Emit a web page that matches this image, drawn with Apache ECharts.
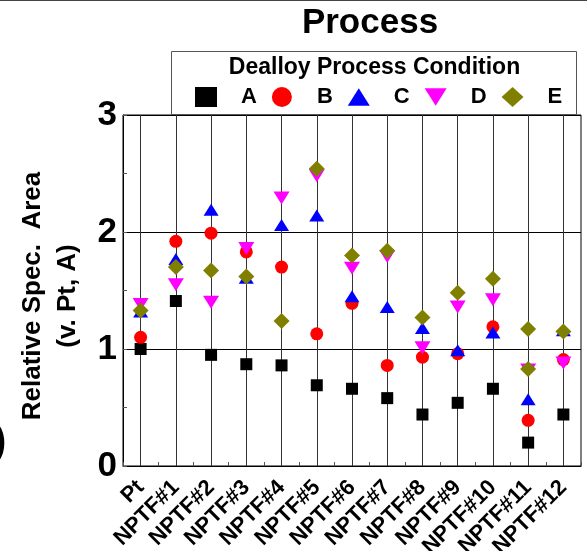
<!DOCTYPE html>
<html>
<head>
<meta charset="utf-8">
<script src="https://cdn.jsdelivr.net/npm/echarts@6/dist/echarts.min.js"></script>
<style>
  html, body { margin: 0; padding: 0; background: #fff; }
  #chart { width: 587px; height: 551px; }
</style>
</head>
<body>
<div id="chart"></div>
<script>
// Samples along the x axis
const categories = ['Pt', 'NPTF#1', 'NPTF#2', 'NPTF#3', 'NPTF#4', 'NPTF#5', 'NPTF#6',
  'NPTF#7', 'NPTF#8', 'NPTF#9', 'NPTF#10', 'NPTF#11', 'NPTF#12'];

// Relative specific area (v. Pt, A) for each dealloy process condition
const condA = [1.00, 1.41, 0.95, 0.87, 0.86, 0.69, 0.66, 0.58, 0.44, 0.54, 0.66, 0.20, 0.44];
const condB = [1.10, 1.92, 1.99, 1.83, 1.70, 1.13, 1.39, 0.86, 0.93, 0.96, 1.19, 0.39, 0.91];
const condC = [1.32, 1.77, 2.19, 1.61, 2.06, 2.14, 1.45, 1.36, 1.18, 0.99, 1.14, 0.57, 1.16];
const condD = [1.38, 1.55, 1.40, 1.86, 2.29, 2.48, 1.69, 1.79, 1.01, 1.36, 1.42, 0.82, 0.88];
const condE = [1.33, 1.70, 1.67, 1.62, 1.24, 2.54, 1.80, 1.84, 1.27, 1.48, 1.60, 1.17, 1.15];
// Second measurement taken for condition E
const condEExtraCats = ['NPTF#11'];
const condEExtraVals = [0.83];

const yTicks = [0, 1, 2, 3];

const FONT = "'Liberation Sans', Arial, Helvetica, sans-serif";
const triDown = 'path://M0,0 L20,0 L10,16 Z';
const triUp = 'path://M10,0 L20,16 L0,16 Z';

const chart = echarts.init(document.getElementById('chart'), null, { renderer: 'canvas' });

function pairs(vals) {
  return vals.map((v, i) => [categories[i], v]);
}

const eData = pairs(condE).concat(condEExtraCats.map((c, i) => [c, condEExtraVals[i]]));

const option = {
  backgroundColor: '#ffffff',
  animation: false,
  grid: {
    left: 123, right: 6, top: 115, bottom: 85,
    containLabel: false, outerBoundsMode: 'none',
    show: true, borderColor: '#000', borderWidth: 1, backgroundColor: 'transparent'
  },
  legend: {
    data: [
      { name: 'A', icon: 'rect' },
      { name: 'B', icon: 'circle' },
      { name: 'C', icon: triUp },
      { name: 'D', icon: triDown },
      { name: 'E', icon: 'diamond' }
    ],
    left: 195, top: 86, padding: 0,
    itemWidth: 22, itemHeight: 20, itemGap: 15,
    selectedMode: false,
    formatter: name => '{p|' + name + '}',
    textStyle: {
      color: '#000', fontFamily: FONT, fontWeight: 'bold', fontSize: 22,
      rich: { p: { padding: [0, 0, 0, 19], fontFamily: FONT, fontWeight: 'bold', fontSize: 22, color: '#000' } }
    }
  },
  xAxis: {
    type: 'category',
    data: categories,
    boundaryGap: true,
    axisLine: { show: true, lineStyle: { color: '#000', width: 1 } },
    axisTick: { show: true, inside: true, length: 4, lineStyle: { color: '#555' } },
    axisLabel: {
      interval: 0, rotate: 45, margin: 18, color: '#000',
      fontFamily: FONT, fontWeight: 'bold', fontSize: 22, hideOverlap: false
    },
    splitLine: { show: false }
  },
  yAxis: {
    type: 'value',
    min: yTicks[0], max: yTicks[yTicks.length - 1], interval: 1,
    name: 'Relative Spec.  Area\n(v. Pt, A)',
    nameLocation: 'middle',
    nameGap: 38,
    nameTextStyle: {
      color: '#000', fontFamily: FONT, fontWeight: 'bold', fontSize: 26,
      lineHeight: 35, padding: [0, 11, 0, 0]
    },
    axisLine: { show: true, lineStyle: { color: '#000', width: 1 } },
    axisTick: { show: true, inside: true, length: 4, lineStyle: { color: '#555' } },
    minorTick: { show: true, splitNumber: 2, length: 4, lineStyle: { color: '#555' } },
    axisLabel: {
      margin: 6, color: '#000', fontFamily: FONT, fontWeight: 'bold', fontSize: 35
    },
    splitLine: { show: true, lineStyle: { color: '#000', width: 1 } }
  },
  series: [
    {
      name: 'A', type: 'scatter', symbol: 'rect', symbolSize: 12,
      itemStyle: { color: '#000000', opacity: 1 }, data: pairs(condA), z: 3,
      markLine: {
        silent: true, symbol: 'none', label: { show: false },
        lineStyle: { color: '#333', width: 1, type: 'solid', opacity: 1 },
        data: categories.map(c => ({ xAxis: c })),
        z: 1
      }
    },
    {
      name: 'B', type: 'scatter', symbol: 'circle', symbolSize: 13,
      itemStyle: { color: '#ff0000', opacity: 1 }, data: pairs(condB), z: 4
    },
    {
      name: 'C', type: 'scatter', symbol: triUp, symbolSize: [15, 12],
      itemStyle: { color: '#0000ff', opacity: 1 }, data: pairs(condC), z: 5
    },
    {
      name: 'D', type: 'scatter', symbol: triDown, symbolSize: [16, 13],
      itemStyle: { color: '#ff00ff', opacity: 1 }, data: pairs(condD), z: 6
    },
    {
      name: 'E', type: 'scatter', symbol: 'diamond', symbolSize: 16,
      itemStyle: { color: '#808000', opacity: 1 }, data: eData, z: 7
    }
  ],
  graphic: [
    // thin frame line along the top edge
    { type: 'rect', shape: { x: 0, y: 0, width: 587, height: 1 }, style: { fill: '#444' }, silent: true },
    // frame around the legend
    {
      type: 'rect', shape: { x: 171.5, y: 51.5, width: 405, height: 63 },
      style: { fill: 'transparent', stroke: '#555', lineWidth: 1 }, z: 0, silent: true
    },
    {
      type: 'text', x: 370, y: 23, silent: true,
      style: { text: 'Process', font: 'bold 35px ' + FONT, fill: '#000', textAlign: 'center', textVerticalAlign: 'middle' }
    },
    {
      type: 'text', x: 374.5, y: 67.5, silent: true,
      style: { text: 'Dealloy Process Condition', font: 'bold 23px ' + FONT, fill: '#000', textAlign: 'center', textVerticalAlign: 'middle' }
    },
    {
      type: 'text', x: -7, y: 443, silent: true,
      style: { text: ')', font: 'bold 40px ' + FONT, fill: '#000', textAlign: 'left', textVerticalAlign: 'middle' }
    }
  ]
};

chart.setOption(option);
</script>
</body>
</html>
